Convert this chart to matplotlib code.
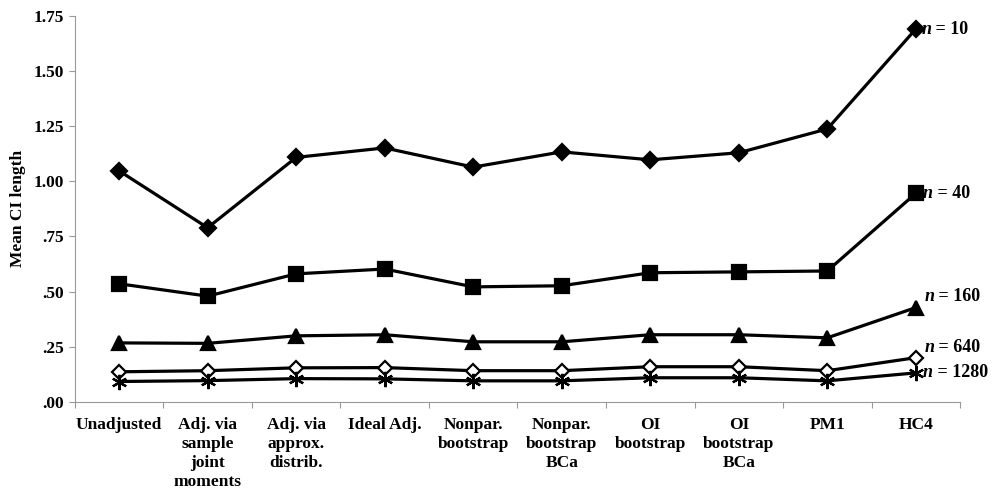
import matplotlib.pyplot as plt

plt.rcParams['font.family'] = ['Liberation Serif', 'DejaVu Serif']
plt.rcParams['font.weight'] = 'bold'

methods = ['Unadjusted', 'Adj. via\nsample\njoint\nmoments', 'Adj. via\napprox.\ndistrib.',
           'Ideal Adj.', 'Nonpar.\nbootstrap', 'Nonpar.\nbootstrap\nBCa', 'OI\nbootstrap',
           'OI\nbootstrap\nBCa', 'PM1', 'HC4']

n10 = [1.047, 0.789, 1.108, 1.151, 1.064, 1.133, 1.097, 1.129, 1.237, 1.69]
n40 = [0.535, 0.479, 0.580, 0.602, 0.521, 0.526, 0.585, 0.589, 0.593, 0.945]
n160 = [0.267, 0.265, 0.299, 0.304, 0.272, 0.272, 0.304, 0.304, 0.290, 0.427]
n640 = [0.136, 0.141, 0.154, 0.155, 0.141, 0.141, 0.159, 0.159, 0.141, 0.200]
n1280 = [0.092, 0.096, 0.105, 0.104, 0.095, 0.095, 0.109, 0.109, 0.095, 0.131]

y_ticks = [0, 0.25, 0.5, 0.75, 1.0, 1.25, 1.5, 1.75]
y_ticklabels = ['.00', '.25', '.50', '.75', '1.00', '1.25', '1.50', '1.75']

fig = plt.figure(figsize=(9.98, 4.93), dpi=100)
ax = fig.add_axes([0.075, 0.185, 0.887, 0.783])

x = [i + 0.5 for i in range(len(methods))]

# series: values, marker, size, facecolor, label, label offset (points)
series = [
    (n10, 'D', 8.5, 'black', '10', (4, 0)),
    (n40, 's', 9.5, 'black', '40', (5, 0)),
    (n160, '^', 9.5, 'black', '160', (6, 8)),
    (n640, 'D', 7, 'white', '640', (6, 7)),
    (n1280, (6, 2, 0), 11, 'black', '1280', (5, 0)),
]

for vals, mk, ms, fc, lab, off in series:
    ax.plot(x, vals, color='black', lw=2.3, marker=mk, markersize=ms,
            markerfacecolor=fc, markeredgecolor='black', markeredgewidth=1.6,
            clip_on=False, zorder=3)
    t1 = ax.annotate('n', xy=(x[-1], vals[-1]), xytext=off, textcoords='offset points',
                     fontsize=13, fontstyle='italic', fontweight='bold', va='center', ha='left')
    ax.annotate(' = ' + lab, xy=(1, 0.5), xycoords=t1, va='center', ha='left',
                fontsize=13, fontweight='bold')

ax.set_xlim(0, 10)
ax.set_ylim(0, 1.75)
ax.set_xticks(range(0, 11))
ax.set_xticklabels([])
ax.set_xticks(x, minor=True)
ax.set_xticklabels(methods, minor=True, fontsize=12.5, fontweight='bold', linespacing=1.25)
ax.tick_params(axis='x', which='minor', length=0, pad=11)
ax.set_yticks(y_ticks)
ax.set_yticklabels(y_ticklabels, fontsize=12.5, fontweight='bold')
ax.tick_params(axis='both', which='major', color='#999999', length=4)
ax.tick_params(axis='y', pad=4)
ax.set_ylabel('Mean CI length', fontsize=12.5, fontweight='bold', labelpad=5)

ax.spines['top'].set_visible(False)
ax.spines['right'].set_visible(False)
ax.spines['left'].set_color('#999999')
ax.spines['bottom'].set_color('#999999')

fig.savefig('out.png', dpi=100)
